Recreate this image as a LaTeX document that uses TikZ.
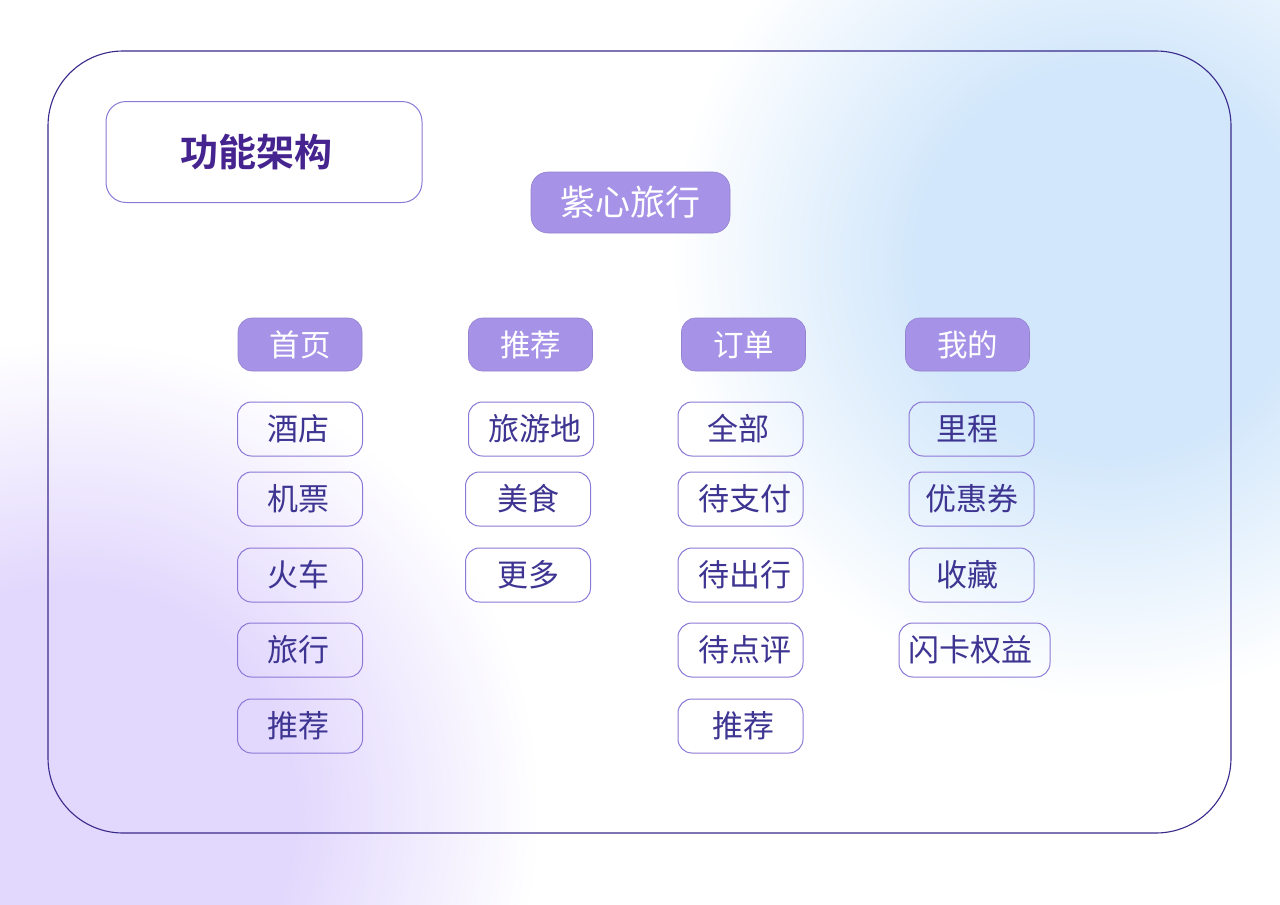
\documentclass[tikz,border=0pt]{standalone}
\usepackage{fontspec}
\setmainfont{Noto Sans CJK SC}
\newfontfamily\cjkb{Noto Sans CJK SC Bold}
\definecolor{frameC}{HTML}{3A2A8C}
\definecolor{boxC}{HTML}{8C78D6}
\definecolor{fillC}{HTML}{A692E6}
\definecolor{txtC}{HTML}{3E3592}
\definecolor{titleC}{HTML}{46248F}
\definecolor{glowB}{HTML}{D2E7FB}
\definecolor{glowP}{HTML}{E2D8FD}
\pgfdeclareradialshading{blobB}{\pgfpoint{0bp}{0bp}}{color(0bp)=(glowB); color(11bp)=(glowB); color(25bp)=(white); color(50bp)=(white)}
\pgfdeclareradialshading{blobP}{\pgfpoint{0bp}{0bp}}{color(0bp)=(glowP); color(12bp)=(glowP); color(25bp)=(white); color(50bp)=(white)}
\begin{document}
\begin{tikzpicture}[x=1pt,y=-1pt,
  leaf/.style={draw=boxC,line width=1pt,rounded corners=14pt,
    minimum width=125pt,minimum height=54pt,inner sep=0pt,text=txtC,font=\fontsize{31}{36}\selectfont},
  cat/.style={draw=fillC!90!black,line width=0.6pt,fill=fillC,rounded corners=14pt,
    minimum width=124pt,minimum height=53pt,inner sep=0pt,text=white,font=\fontsize{30.5}{36}\selectfont},
]
\useasboundingbox (0,0) rectangle (1280,905);
\fill[white] (0,0) rectangle (1280,905);
\begin{scope}
\clip (0,0) rectangle (1280,905);
\shade[shading=blobB] (1110,260) circle (440);
\shade[shading=blobP] (70,810) circle (470);
\end{scope}
% frame
\draw[frameC,line width=1.1pt,rounded corners=75pt] (48,51) rectangle (1231,833);
% title
\node[draw=boxC,line width=1pt,rounded corners=20pt,minimum width=316pt,minimum height=101pt,inner sep=0pt,
  text=titleC,font=\cjkb\fontsize{38}{42}\selectfont] (title) at (264,152) {\hspace*{-16pt}功能架构};
% root
\node[cat,minimum width=199pt,minimum height=61pt,rounded corners=17pt,font=\fontsize{35}{40}\selectfont] (root) at (630.5,202.5) {紫心旅行};
% categories
\node[cat] (c1) at (300,344.5) {首页};
\node[cat] (c2) at (530.5,344.5) {推荐};
\node[cat] (c3) at (743.5,344.5) {订单};
\node[cat] (c4) at (967.5,344.5) {我的};
% column 1
\node[leaf] (a1) at (300,429) {\hspace*{-4pt}酒店};
\node[leaf] (a2) at (300,499) {\hspace*{-4pt}机票};
\node[leaf] (a3) at (300,575) {\hspace*{-4pt}火车};
\node[leaf] (a4) at (300,650) {\hspace*{-4pt}旅行};
\node[leaf] (a5) at (300,726) {\hspace*{-4pt}推荐};
% column 2
\node[leaf] (b1) at (531,429) {\hspace*{8pt}旅游地};
\node[leaf] (b2) at (528,499) {美食};
\node[leaf] (b3) at (528,575) {更多};
% column 3
\node[leaf] (d1) at (740.5,429) {\hspace*{-4pt}全部};
\node[leaf] (d2) at (740.5,499) {\hspace*{8pt}待支付};
\node[leaf] (d3) at (740.5,575) {\hspace*{8pt}待出行};
\node[leaf] (d4) at (740.5,650) {\hspace*{8pt}待点评};
\node[leaf] (d5) at (740.5,726) {\hspace*{6pt}推荐};
% column 4
\node[leaf] (e1) at (971.5,429) {\hspace*{-8pt}里程};
\node[leaf] (e2) at (971.5,499) {优惠券};
\node[leaf] (e3) at (971.5,575) {\hspace*{-8pt}收藏};
\node[leaf,minimum width=151pt] (e4) at (974.5,650) {\hspace*{-8pt}闪卡权益};
\end{tikzpicture}
\end{document}
